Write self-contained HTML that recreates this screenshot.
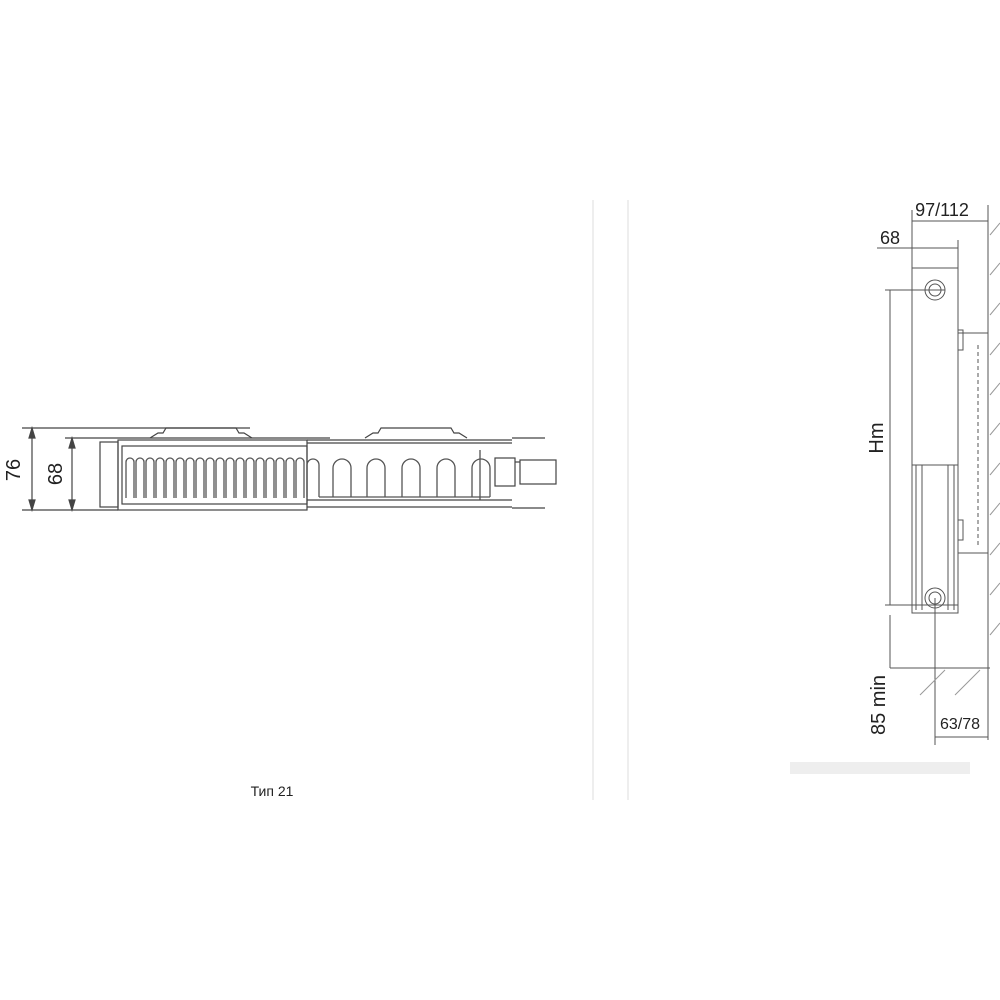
<!DOCTYPE html><html><head><style>body{margin:0;background:#fff}svg{display:block}text{font-family:"Liberation Sans",sans-serif;fill:#222}</style></head><body>
<svg width="1000" height="1000" viewBox="0 0 1000 1000" xmlns="http://www.w3.org/2000/svg">
<g stroke="#444" fill="none" stroke-width="1.2">
<line x1="22" y1="428" x2="250" y2="428"/><line x1="22" y1="510" x2="118" y2="510"/>
<line x1="65" y1="438" x2="330" y2="438"/>
<line x1="32" y1="428" x2="32" y2="510"/><line x1="72" y1="438" x2="72" y2="510"/>
<path d="M32 428 l-3 10 h6z M32 510 l-3 -10 h6z M72 438 l-3 10 h6z M72 510 l-3 -10 h6z" fill="#444"/>
<rect x="100" y="442" width="18" height="65"/>
<rect x="118" y="440" width="189" height="70"/>
<rect x="122" y="446" width="185" height="58"/>
<line x1="307" y1="440" x2="512" y2="440"/><line x1="307" y1="443" x2="512" y2="443"/>
<line x1="307" y1="500" x2="512" y2="500"/><line x1="307" y1="507" x2="512" y2="507"/>
<path d="M150 438 l8 -5 h5 l3 -5 h70 l3 5 h5 l8 5"/>
<path d="M365 438 l8 -5 h5 l3 -5 h70 l3 5 h5 l8 5"/>
<line x1="512" y1="438" x2="545" y2="438"/><line x1="512" y1="508" x2="545" y2="508"/>
<rect x="495" y="458" width="20" height="28"/><line x1="515" y1="462" x2="520" y2="462"/><rect x="520" y="460" width="36" height="24"/>
<line x1="480" y1="450" x2="480" y2="500"/>
</g>
<g stroke="#555" fill="none" stroke-width="1.3">
<path d="M126 498 V462 a4 4 0 0 1 8 0 V498 M136 498 V462 a4 4 0 0 1 8 0 V498 M146 498 V462 a4 4 0 0 1 8 0 V498 M156 498 V462 a4 4 0 0 1 8 0 V498 M166 498 V462 a4 4 0 0 1 8 0 V498 M176 498 V462 a4 4 0 0 1 8 0 V498 M186 498 V462 a4 4 0 0 1 8 0 V498 M196 498 V462 a4 4 0 0 1 8 0 V498 M206 498 V462 a4 4 0 0 1 8 0 V498 M216 498 V462 a4 4 0 0 1 8 0 V498 M226 498 V462 a4 4 0 0 1 8 0 V498 M236 498 V462 a4 4 0 0 1 8 0 V498 M246 498 V462 a4 4 0 0 1 8 0 V498 M256 498 V462 a4 4 0 0 1 8 0 V498 M266 498 V462 a4 4 0 0 1 8 0 V498 M276 498 V462 a4 4 0 0 1 8 0 V498 M286 498 V462 a4 4 0 0 1 8 0 V498 M296 498 V462 a4 4 0 0 1 8 0 V498"/>
<path d="M307 497 V465 a6 6 0 0 1 12 0 V497 M333 497 V468 a9 9 0 0 1 18 0 V497 M367 497 V468 a9 9 0 0 1 18 0 V497 M402 497 V468 a9 9 0 0 1 18 0 V497 M437 497 V468 a9 9 0 0 1 18 0 V497 M472 497 V468 a9 9 0 0 1 18 0 V497 M319 497 H490"/>
</g>
<text x="20" y="470" font-size="20" transform="rotate(-90 20 470)" text-anchor="middle">76</text>
<text x="62" y="474" font-size="20" transform="rotate(-90 62 474)" text-anchor="middle">68</text>
<text x="272" y="796" font-size="14" text-anchor="middle">Тип 21</text>
<line x1="593" y1="200" x2="593" y2="800" stroke="#ddd"/><line x1="628" y1="200" x2="628" y2="800" stroke="#ddd"/>
<g stroke="#555" fill="none" stroke-width="1">
<line x1="912" y1="221" x2="988" y2="221"/><line x1="877" y1="248" x2="958" y2="248"/>
<line x1="912" y1="210" x2="912" y2="268"/><line x1="958" y1="240" x2="958" y2="268"/>
<line x1="988" y1="205" x2="988" y2="740"/>
<rect x="912" y="268" width="46" height="345"/>
<line x1="916" y1="465" x2="916" y2="610"/><line x1="922" y1="465" x2="922" y2="610"/><line x1="948" y1="465" x2="948" y2="610"/><line x1="954" y1="465" x2="954" y2="610"/>
<line x1="912" y1="465" x2="958" y2="465"/>
<circle cx="935" cy="290" r="10"/><circle cx="935" cy="290" r="6"/>
<circle cx="935" cy="598" r="10"/><circle cx="935" cy="598" r="6"/>
<rect x="958" y="333" width="30" height="220"/><rect x="958" y="330" width="5" height="20"/><rect x="958" y="520" width="5" height="20"/>
<line x1="978" y1="345" x2="978" y2="545" stroke-dasharray="4 3"/>
<line x1="885" y1="290" x2="945" y2="290"/><line x1="885" y1="605" x2="958" y2="605"/>
<line x1="890" y1="290" x2="890" y2="605"/><line x1="890" y1="615" x2="890" y2="668"/>
<line x1="890" y1="668" x2="990" y2="668"/>
<line x1="935" y1="598" x2="935" y2="745"/><line x1="935" y1="737" x2="988" y2="737"/>
<path d="M990 235 l10 -12 M990 275 l10 -12 M990 315 l10 -12 M990 355 l10 -12 M990 395 l10 -12 M990 435 l10 -12 M990 475 l10 -12 M990 515 l10 -12 M990 555 l10 -12 M990 595 l10 -12 M990 635 l10 -12 M920 695 l25 -25 M955 695 l25 -25" stroke="#999"/>
</g>
<text x="942" y="216" font-size="18" text-anchor="middle">97/112</text>
<text x="890" y="244" font-size="18" text-anchor="middle">68</text>
<text x="883" y="438" font-size="20" transform="rotate(-90 883 438)" text-anchor="middle">Hm</text>
<text x="885" y="705" font-size="20" transform="rotate(-90 885 705)" text-anchor="middle">85 min</text>
<text x="960" y="729" font-size="16" text-anchor="middle">63/78</text>
<rect x="790" y="762" width="180" height="12" fill="#eee"/>
</svg></body></html>
